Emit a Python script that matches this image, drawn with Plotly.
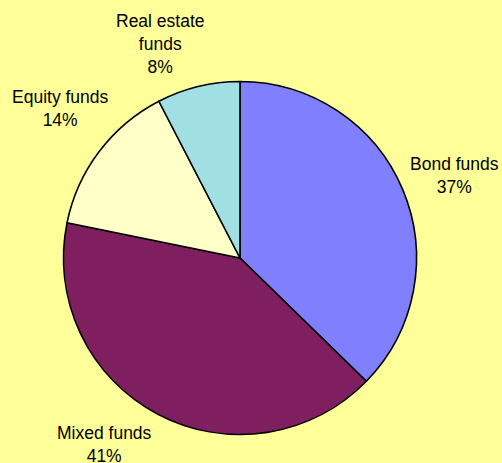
import numpy as np
import plotly.graph_objects as go

# ---- data ----
categories = ["Bond funds", "Mixed funds", "Equity funds", "Real estate funds"]
display_labels = ["Bond funds", "Mixed funds", "Equity funds", "Real estate<br>funds"]
values = [37.3, 40.9, 14.2, 7.6]

# ---- styles ----
colors = ["#8080FF", "#7F1F5F", "#FFFFC8", "#A0E0E3"]
bg = "#FFFF99"
W, H = 502, 463
# pie geometry in pixels (left, right, top, bottom)
pie_px = (63.5, 416.5, 81, 435)
label_radius = 230          # px from pie centre along mid-angle
label_nudge = [(3, 7), (-28, -17), (4, -11), (-25, 9)]  # px adjustments

fig = go.Figure(go.Pie(
    labels=categories,
    values=values,
    sort=False,
    direction="clockwise",
    rotation=0,
    marker=dict(colors=colors, line=dict(color="black", width=1.6)),
    textinfo="none",
    hoverinfo="label+percent",
    showlegend=False,
    domain=dict(x=[pie_px[0] / W, pie_px[1] / W],
                y=[1 - pie_px[3] / H, 1 - pie_px[2] / H]),
))

cx = (pie_px[0] + pie_px[1]) / 2
cy = (pie_px[2] + pie_px[3]) / 2
vals = np.array(values, dtype=float)
fracs = vals / vals.sum()
cum = np.cumsum(fracs) - fracs / 2
annotations = []
for lab, f, mid, (nx, ny) in zip(display_labels, fracs, cum, label_nudge):
    th = 2 * np.pi * mid
    px = cx + label_radius * np.sin(th) + nx
    py = cy - label_radius * np.cos(th) + ny
    annotations.append(dict(
        x=px / W, y=1 - py / H, xref="paper", yref="paper",
        text=f"{lab}<br>{round(f * 100):.0f}%",
        showarrow=False, xanchor="center", yanchor="middle", align="center",
        font=dict(family="Liberation Sans, Arial, sans-serif", size=17.5, color="black"),
    ))

fig.update_layout(
    width=W, height=H,
    margin=dict(l=0, r=0, t=0, b=0),
    paper_bgcolor=bg, plot_bgcolor=bg,
    annotations=annotations,
)

fig.write_html("out.html")
